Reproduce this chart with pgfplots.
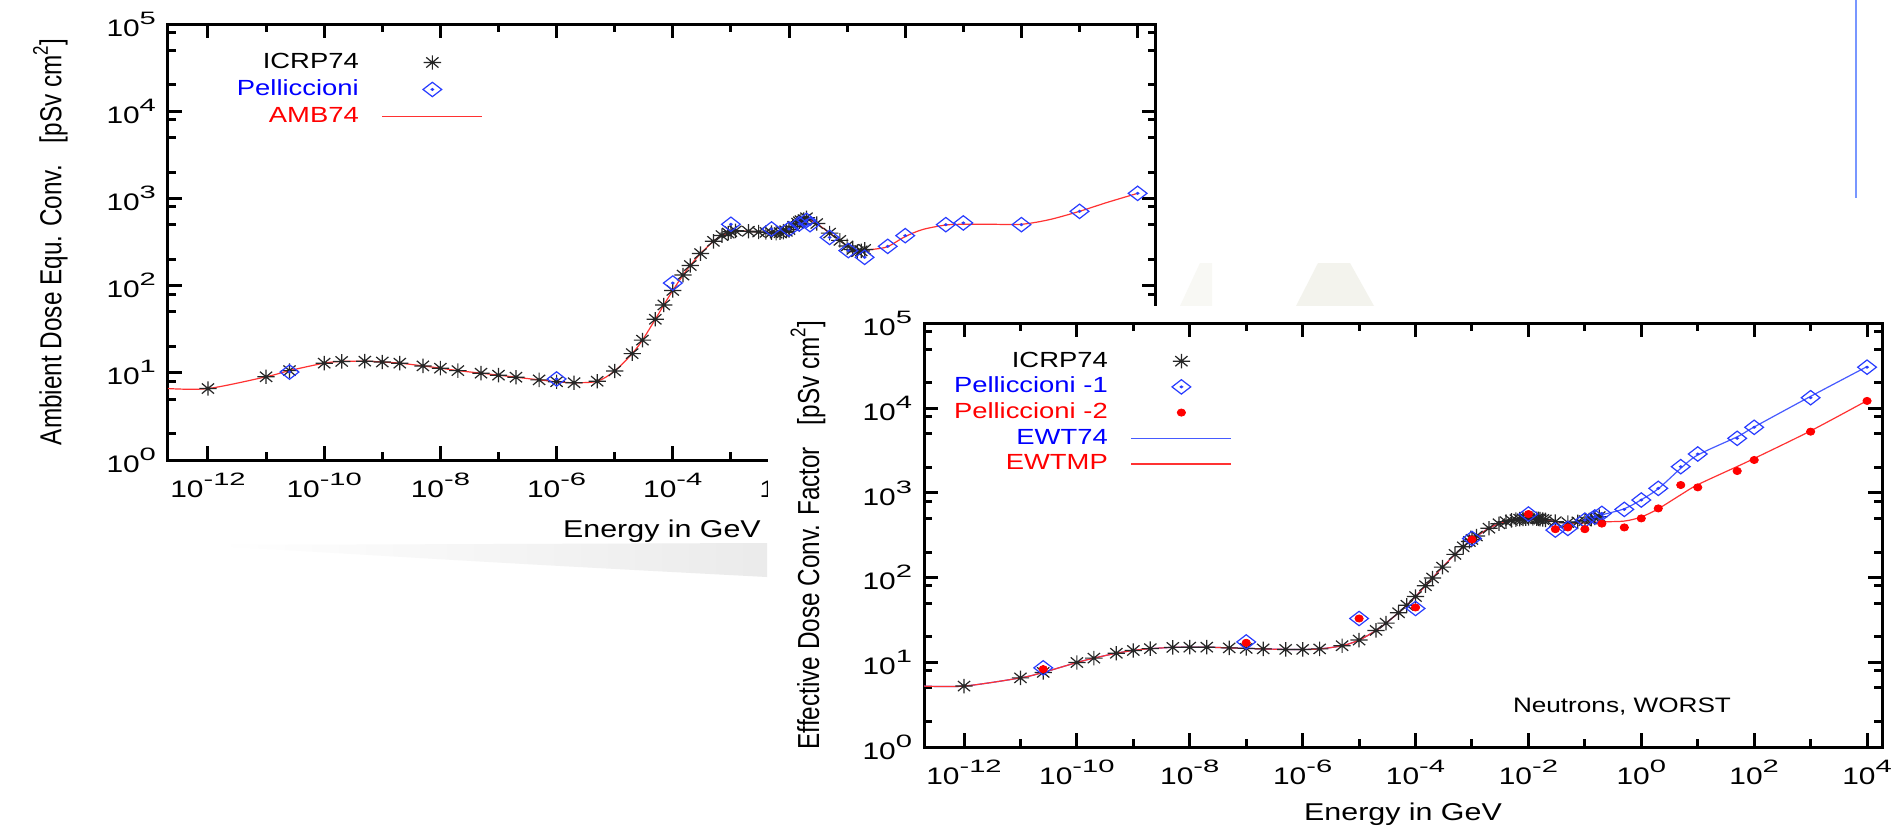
\documentclass[border=0pt]{standalone}
\usepackage{pgfplots}
\pgfplotsset{compat=1.18}
\usepackage{fontspec}
\setmainfont{Liberation Sans}
\usepackage{graphicx}

\definecolor{pblue}{RGB}{40,60,255}
\definecolor{lblue}{RGB}{70,90,255}
\definecolor{lred}{RGB}{255,50,50}
\definecolor{decoblue}{RGB}{120,150,255}
\definecolor{deco}{RGB}{243,243,237}

\newcommand\hs[1]{\scalebox{1.25}[1]{#1}}
\newcommand\vs[1]{\scalebox{1}[1.25]{#1}}
\newcommand\tsup[1]{\raisebox{0.45em}{\fontsize{8.5}{9}\selectfont #1}}
\newcommand\bsup[1]{\raisebox{0.5em}{\scalebox{1.3}[1]{\fontsize{9}{9}\selectfont #1}}}
\newcommand\ten[1]{\hs{\fontsize{12}{14}\selectfont 10\bsup{#1}}}

\pgfdeclareplotmark{gstar}{%
  \pgfpathmoveto{\pgfqpoint{-\pgfplotmarksize}{0pt}}\pgfpathlineto{\pgfqpoint{\pgfplotmarksize}{0pt}}%
  \pgfpathmoveto{\pgfqpoint{0pt}{-\pgfplotmarksize}}\pgfpathlineto{\pgfqpoint{0pt}{\pgfplotmarksize}}%
  \pgfpathmoveto{\pgfqpoint{-0.707\pgfplotmarksize}{-0.707\pgfplotmarksize}}\pgfpathlineto{\pgfqpoint{0.707\pgfplotmarksize}{0.707\pgfplotmarksize}}%
  \pgfpathmoveto{\pgfqpoint{-0.707\pgfplotmarksize}{0.707\pgfplotmarksize}}\pgfpathlineto{\pgfqpoint{0.707\pgfplotmarksize}{-0.707\pgfplotmarksize}}%
  \pgfusepathqstroke}
\pgfdeclareplotmark{gdiamond}{%
  \pgfpathmoveto{\pgfqpoint{\pgfplotmarksize}{0pt}}\pgfpathlineto{\pgfqpoint{0pt}{\pgfplotmarksize}}%
  \pgfpathlineto{\pgfqpoint{-\pgfplotmarksize}{0pt}}\pgfpathlineto{\pgfqpoint{0pt}{-\pgfplotmarksize}}\pgfpathclose
  \pgfpathcircle{\pgfpointorigin}{0.12\pgfplotmarksize}%
  \pgfusepathqstroke}

\pgfplotsset{
  myax/.style={
    scale only axis, ymin=1, ymax=1e5,
    axis line style={line width=1.5bp},
    tick style={black, line width=1.5bp},
    tick align=inside,
    xtick={1e-12,1e-10,1e-8,1e-6,1e-4,1e-2,1,1e2,1e4},
    xticklabels={\ten{-12},\ten{-10},\ten{-8},\ten{-6},\ten{-4},\ten{-2},\ten{0},\ten{2},\ten{4}},
    minor xtick={1e-11,1e-9,1e-7,1e-5,1e-3,1e-1,10,1e3},
    ytick={1,10,100,1000,10000,100000},
    yticklabels={\ten{0},\ten{1},\ten{2},\ten{3},\ten{4},\ten{5}},
    minor ytick={2,5,8,20,50,80,200,500,800,2000,5000,8000,20000,50000,80000},
    major tick length=7bp, minor tick length=4bp,
    xticklabel style={yshift=-3bp},
    yticklabel style={xshift=-2.5bp},
    label style={font=\fontsize{12.2}{14}\selectfont},
    legend plot pos=right,
    legend style={draw=none, fill=none, inner sep=0pt, outer sep=0pt, anchor=north east,
      font=\fontsize{11}{12}\selectfont, cells={anchor=east},
      nodes={inner sep=0.5bp, text height=8bp, text depth=2bp}, column sep=11bp},
  },
  starstyle/.style={only marks, mark=gstar, mark size=3.6bp, black!85, line width=0.6bp, mark options={xscale=1.2}},
  diastyle/.style={only marks, mark=gdiamond, mark size=3.6bp, pblue, line width=0.6bp, mark options={xscale=1.3}},
  legend image code/.code={\draw[mark repeat=2,mark phase=2,#1] plot coordinates {(0bp,0bp) (25bp,0bp) (50bp,0bp)};},
}

\begin{document}
\begin{tikzpicture}
\useasboundingbox (0,0) rectangle (947.5bp,-413.5bp);
\fill[white] (0,0) rectangle (947.5bp,-413.5bp);
% faint slide decorations
\shade[left color=white, right color=black!8] (108.5bp,-272.5bp) -- (383.5bp,-271.5bp) -- (383.5bp,-288.5bp) .. controls (260bp,-282bp) .. (108.5bp,-273bp) -- cycle;
\fill[deco] (648bp,-153bp) -- (659bp,-131.5bp) -- (675bp,-131.5bp) -- (687bp,-153bp) -- cycle;
\fill[deco!60] (590bp,-153bp) -- (600bp,-131.5bp) -- (606bp,-131.5bp) -- (606bp,-153bp) -- cycle;

\begin{axis}[xmode=log, ymode=log, myax, at={(84bp,-12bp)}, anchor=north west, width=494bp, height=218bp,
  xmin=2.05e-13, xmax=2.07e4,
  xlabel={\hs{Energy in GeV}},
  ylabel={\vs{Ambient Dose Equ. Conv.\hspace{0.9em}[pSv cm\tsup{2}]}},
  xlabel style={at={(axis description cs:0.5,-0.178)}, anchor=base},
  ylabel style={at={(axis description cs:-0.119,0.5)}, anchor=center},
  legend style={at={(axis description cs:0.3188,0.937)}, row sep=2.5bp}]
\addplot[starstyle] coordinates {
(1e-12,6.6) (1e-11,9.0) (2.53e-11,10.6) (1e-10,12.9) (2e-10,13.5) (5e-10,13.6) (1e-9,13.3) (2e-9,12.9) (5e-9,12.0) (1e-8,11.3) (2e-8,10.6) (5e-8,9.9) (1e-7,9.4) (2e-7,8.9) (5e-7,8.3) (1e-6,7.9) (2e-6,7.7) (5e-6,8.0) (1e-5,10.5) (2e-5,16.6) (3e-5,23.7) (5e-5,41.1) (7e-5,60) (1e-4,88) (1.5e-4,132) (2e-4,170) (3e-4,233) (5e-4,322) (7e-4,375) (9e-4,400) (1e-3,416) (1.2e-3,425) (2e-3,420) (3e-3,412) (4e-3,408) (5e-3,405) (6e-3,400) (7e-3,405) (8e-3,409) (9e-3,420) (1e-2,440) (1.2e-2,480) (1.4e-2,520) (1.5e-2,540) (1.6e-2,555) (1.8e-2,570) (2e-2,600) (3e-2,515) (5e-2,400) (7.5e-2,330) (0.1,285) (0.125,260) (0.15,245) (0.175,250) (0.201,260)};
\addlegendentry{\hs{ICRP74}}
\addplot[diastyle] coordinates {
(2.53e-11,10.2) (1e-6,8.5) (1e-4,107) (1e-3,505) (5e-3,446) (1e-2,445) (1.5e-2,510) (2e-2,560) (2.3e-2,500) (5e-2,357) (0.105,252) (0.2,211) (0.5,282) (1,374) (5,500) (10,523) (100,500) (1000,711) (1e4,1143)};
\addlegendentry{\textcolor{blue}{\hs{Pelliccioni}}}
\addplot[lred, line width=0.6bp, smooth, no marks] coordinates {
(2.05e-13,6.6) (1e-12,6.6) (1e-11,9.0) (2.53e-11,10.6) (1e-10,12.9) (2e-10,13.5) (5e-10,13.6) (1e-9,13.3) (2e-9,12.9) (5e-9,12.0) (1e-8,11.3) (2e-8,10.6) (5e-8,9.9) (1e-7,9.4) (2e-7,8.9) (5e-7,8.3) (1e-6,7.9) (2e-6,7.7) (5e-6,8.0) (1e-5,10.5) (2e-5,16.6) (3e-5,23.7) (5e-5,41.1) (7e-5,60) (1e-4,88) (1.5e-4,132) (2e-4,170) (3e-4,233) (5e-4,322) (7e-4,375) (9e-4,400) (1e-3,416) (1.2e-3,425) (2e-3,420) (3e-3,412) (5e-3,405) (7e-3,405) (9e-3,420) (1.2e-2,480) (1.5e-2,540) (2e-2,590) (3e-2,515) (5e-2,400) (7.5e-2,330) (0.1,285) (0.15,250) (0.2,255) (0.3,262) (0.5,280) (1,365) (2,440) (5,495) (10,505) (30,505) (100,505) (300,570) (1000,711) (3000,900) (1e4,1143)};
\addlegendentry{\textcolor{red}{\hs{AMB74}}}
\end{axis}

\fill[white] (384bp,-153bp) rectangle (947.5bp,-413.5bp);

\begin{axis}[xmode=log, ymode=log, myax, at={(462bp,-161.75bp)}, anchor=north west, width=479bp, height=211.75bp,
  xmin=1.955e-13, xmax=1.84e4,
  xlabel={\hs{Energy in GeV}},
  ylabel={\vs{Effective Dose Conv. Factor\hspace{0.9em}[pSv cm\tsup{2}]}},
  xlabel style={at={(axis description cs:0.5,-0.174)}, anchor=base},
  ylabel style={at={(axis description cs:-0.121,0.5)}, anchor=center},
  legend style={at={(axis description cs:0.3215,0.937)}, row sep=1.85bp}]
\addplot[starstyle] coordinates {
(1e-12,5.24) (1e-11,6.55) (2.53e-11,7.6) (1e-10,9.95) (2e-10,11.2) (5e-10,12.8) (1e-9,13.8) (2e-9,14.5) (5e-9,15.0) (1e-8,15.1) (2e-8,15.1) (5e-8,14.8) (1e-7,14.6) (2e-7,14.4) (5e-7,14.2) (1e-6,14.2) (2e-6,14.4) (5e-6,15.7) (1e-5,18.3) (2e-5,23.8) (3e-5,29.0) (5e-5,38.5) (7e-5,47.2) (1e-4,59.8) (1.5e-4,80.2) (2e-4,99) (3e-4,133) (5e-4,188) (7e-4,231) (9e-4,267) (1e-3,282) (1.2e-3,310) (2e-3,383) (3e-3,432) (4e-3,458) (5e-3,474) (6e-3,483) (7e-3,490) (8e-3,494) (9e-3,497) (1e-2,499) (1.2e-2,499) (1.4e-2,496) (1.5e-2,494) (1.6e-2,491) (1.8e-2,486) (2e-2,480) (3e-2,458) (5e-2,445) (7.5e-2,455) (0.1,470) (0.13,490) (0.15,505) (0.18,525)};
\addlegendentry{\hs{ICRP74}}
\addplot[diastyle] coordinates {
(2.53e-11,8.6) (1e-7,17.4) (1e-5,32.9) (1e-4,43.2) (1e-3,290) (1e-2,563) (3e-2,364) (5e-2,381) (0.1,477) (0.15,520) (0.2,573) (0.5,639) (1,824) (2,1132) (5,2040) (10,2880) (50,4410) (100,5950) (1000,13300) (1e4,30500)};
\addlegendentry{\textcolor{blue}{\hs{Pelliccioni -1}}}
\addplot[only marks, mark=*, mark size=1.8bp, red, mark options={xscale=1.15}] coordinates {
(2.53e-11,8.3) (1e-7,17.0) (1e-5,32.9) (1e-4,44.4) (1e-3,282) (1e-2,563) (3e-2,373) (5e-2,391) (0.1,373) (0.2,434) (0.5,391) (1,500) (2,656) (5,1239) (10,1163) (50,1813) (100,2447) (1000,5285) (1e4,12190)};
\addlegendentry{\textcolor{red}{\hs{Pelliccioni -2}}}
\addplot[lblue, line width=0.6bp, smooth, no marks] coordinates {
(1.955e-13,5.24) (1e-12,5.24) (1e-11,6.55) (2.53e-11,7.6) (1e-10,9.95) (2e-10,11.2) (5e-10,12.8) (1e-9,13.8) (2e-9,14.5) (5e-9,15.0) (1e-8,15.1) (2e-8,15.1) (5e-8,14.8) (1e-7,14.6) (2e-7,14.4) (5e-7,14.2) (1e-6,14.2) (2e-6,14.4) (5e-6,15.7) (1e-5,18.3) (2e-5,23.8) (3e-5,29.0) (5e-5,38.5) (7e-5,47.2) (1e-4,59.8) (1.5e-4,80.2) (2e-4,99) (3e-4,133) (5e-4,188) (7e-4,231) (1e-3,282) (2e-3,383) (3e-3,432) (5e-3,474) (7e-3,490) (1e-2,499) (1.5e-2,494) (2e-2,480) (3e-2,458) (5e-2,445) (0.1,480) (0.15,515) (0.2,550) (0.5,650) (1,830) (2,1120) (5,1950) (10,2800) (50,4600) (100,6000) (1000,13800) (1e4,31000)};
\addlegendentry{\textcolor{blue}{\hs{EWT74}}}
\addplot[lred, line width=0.6bp, smooth, no marks] coordinates {
(1.955e-13,5.24) (1e-12,5.24) (1e-11,6.55) (2.53e-11,7.6) (1e-10,9.95) (2e-10,11.2) (5e-10,12.8) (1e-9,13.8) (2e-9,14.5) (5e-9,15.0) (1e-8,15.1) (2e-8,15.1) (5e-8,14.8) (1e-7,14.6) (2e-7,14.4) (5e-7,14.2) (1e-6,14.2) (2e-6,14.4) (5e-6,15.7) (1e-5,18.3) (2e-5,23.8) (3e-5,29.0) (5e-5,38.5) (7e-5,47.2) (1e-4,59.8) (1.5e-4,80.2) (2e-4,99) (3e-4,133) (5e-4,188) (7e-4,231) (1e-3,282) (2e-3,383) (3e-3,432) (5e-3,474) (7e-3,490) (1e-2,499) (1.5e-2,494) (2e-2,480) (3e-2,458) (5e-2,440) (0.1,440) (0.2,455) (0.5,465) (1,520) (2,650) (5,950) (10,1250) (50,2050) (100,2550) (1000,5400) (1e4,12300)};
\addlegendentry{\textcolor{red}{\hs{EWTMP}}}
\node[anchor=base] at (axis cs:0.455,2.59) {\hs{\fontsize{10.5}{12}\selectfont Neutrons, WORST}};
\end{axis}

\draw[decoblue, line width=1.2bp] (928bp,0bp) -- (928bp,-99bp);
\end{tikzpicture}
\end{document}
